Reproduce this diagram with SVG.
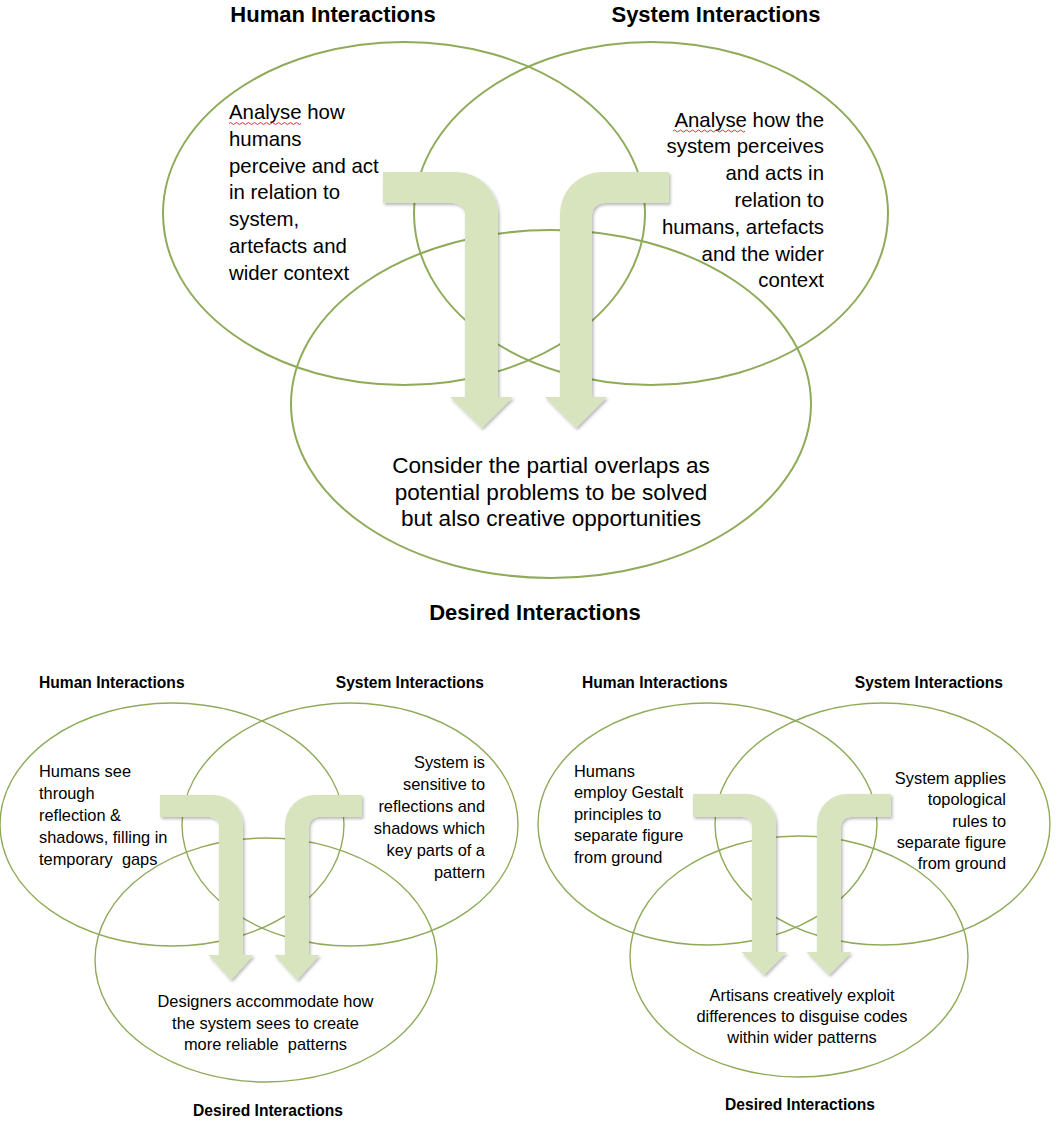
<svg xmlns="http://www.w3.org/2000/svg" width="1058" height="1122" viewBox="0 0 1058 1122">
  <defs>
    <filter id="shadow" x="-20%" y="-20%" width="140%" height="140%">
      <feDropShadow dx="1.5" dy="2" stdDeviation="1.5" flood-color="#000" flood-opacity="0.28"/>
    </filter>
  </defs>
  <style>
    .ring { fill: none; stroke: #8fab5a; }
    .big { stroke-width: 2; }
    .small { stroke-width: 1.4; }
    .arrow { fill: #d7e4bd; filter: url(#shadow); }
    .t { font-family: "Liberation Sans", Arial, sans-serif; fill: #000; }
    .title1 { font-size: 22px; font-weight: bold; }
    .body1 { font-size: 20.4px; }
    .body1b { font-size: 22.6px; }
    .title2 { font-size: 15.6px; font-weight: bold; }
    .body2 { font-size: 16.4px; }
    .mid { text-anchor: middle; }
    .end { text-anchor: end; }
    .squiggle { fill: none; stroke: #e03030; stroke-width: 1; }
  </style>
  <rect width="1058" height="1122" fill="#fff"/>

  <!-- ===== Top diagram ===== -->
  <g id="top-human">
    <ellipse class="ring big" cx="404" cy="213.5" rx="241" ry="171.5"/>
  </g>
  <g id="top-system">
    <ellipse class="ring big" cx="651" cy="213.5" rx="237" ry="171.5"/>
  </g>
  <g id="top-desired">
    <ellipse class="ring big" cx="551" cy="404" rx="260" ry="174"/>
  </g>

  <!-- ===== Bottom-left diagram ===== -->
  <g id="bl-human">
    <ellipse class="ring small" cx="172" cy="824.5" rx="172" ry="121.5"/>
  </g>
  <g id="bl-system">
    <ellipse class="ring small" cx="350" cy="824.5" rx="168" ry="121.5"/>
  </g>
  <g id="bl-desired">
    <ellipse class="ring small" cx="266" cy="960" rx="171" ry="122"/>
  </g>

  <!-- ===== Bottom-right diagram ===== -->
  <g id="br-human">
    <ellipse class="ring small" cx="707.5" cy="824" rx="169.5" ry="121"/>
  </g>
  <g id="br-system">
    <ellipse class="ring small" cx="882.5" cy="824" rx="167.5" ry="121"/>
  </g>
  <g id="br-desired">
    <ellipse class="ring small" cx="799" cy="956.5" rx="169" ry="120.5"/>
  </g>

  <!-- ===== Connectors (bent arrows) ===== -->
  <g id="connectors">
    <!-- top -->
    <path class="arrow" d="M383,172 H456 A42,42 0 0 1 498,214 V397 H513 L481.5,428 L450,397 H465 V215 A12,12 0 0 0 453,203 H383 Z"/>
    <path class="arrow" d="M669,172 H602 A42,42 0 0 0 560,214 V397 H545 L576,428 L607,397 H592 V215 A12,12 0 0 1 604,203 H669 Z"/>
    <!-- bottom-left -->
    <path class="arrow" d="M160,795 H213 A30,30 0 0 1 243,825 V955 H253.5 L231,980 L208.5,955 H219 V826 A9,9 0 0 0 210,817 H160 Z"/>
    <path class="arrow" d="M362,795 H315 A30,30 0 0 0 285,825 V955 H274.5 L297,980 L319.5,955 H309 V826 A9,9 0 0 1 318,817 H362 Z"/>
    <!-- bottom-right -->
    <path class="arrow" d="M693,794 H746 A30,30 0 0 1 776,824 V952 H786.5 L764,975 L741.5,952 H752 V826 A9,9 0 0 0 743,817 H693 Z"/>
    <path class="arrow" d="M891,794 H847 A30,30 0 0 0 817,824 V952 H806.5 L829,975 L851.5,952 H841 V826 A9,9 0 0 1 850,817 H891 Z"/>
  </g>

  <!-- ===== Labels: top diagram ===== -->
  <g id="top-labels">
    <text class="t title1 mid" x="333" y="22">Human Interactions</text>
    <text class="t title1 mid" x="716" y="22">System Interactions</text>

    <text class="t body1" x="229" y="119">Analyse how</text>
    <text class="t body1" x="229" y="145.8">humans</text>
    <text class="t body1" x="229" y="172.6">perceive and act</text>
    <text class="t body1" x="229" y="199.4">in relation to</text>
    <text class="t body1" x="229" y="226.2">system,</text>
    <text class="t body1" x="229" y="253">artefacts and</text>
    <text class="t body1" x="229" y="279.8">wider context</text>
    <path class="squiggle" d="M229,123.5 q1.5,-2 3,0 t3,0 t3,0 t3,0 t3,0 t3,0 t3,0 t3,0 t3,0 t3,0 t3,0 t3,0 t3,0 t3,0 t3,0 t3,0 t3,0 t3,0 t3,0 t3,0 t3,0 t3,0 t3,0 t3,0"/>

    <text class="t body1 end" x="824" y="126.5">Analyse how the</text>
    <text class="t body1 end" x="824" y="153.3">system perceives</text>
    <text class="t body1 end" x="824" y="180.1">and acts in</text>
    <text class="t body1 end" x="824" y="206.9">relation to</text>
    <text class="t body1 end" x="824" y="233.7">humans, artefacts</text>
    <text class="t body1 end" x="824" y="260.5">and the wider</text>
    <text class="t body1 end" x="824" y="287.3">context</text>
    <path class="squiggle" d="M673,131 q1.5,-2 3,0 t3,0 t3,0 t3,0 t3,0 t3,0 t3,0 t3,0 t3,0 t3,0 t3,0 t3,0 t3,0 t3,0 t3,0 t3,0 t3,0 t3,0 t3,0 t3,0 t3,0 t3,0 t3,0 t3,0"/>

    <text class="t body1b mid" x="551" y="473">Consider the partial overlaps as</text>
    <text class="t body1b mid" x="551" y="499.5">potential problems to be solved</text>
    <text class="t body1b mid" x="551" y="526">but also creative opportunities</text>

    <text class="t title1 mid" x="535" y="620">Desired Interactions</text>
  </g>

  <!-- ===== Labels: bottom-left diagram ===== -->
  <g id="bl-labels">
    <text class="t title2" x="39" y="688">Human Interactions</text>
    <text class="t title2 end" x="484" y="688">System Interactions</text>

    <text class="t body2" x="39" y="777">Humans see</text>
    <text class="t body2" x="39" y="799">through</text>
    <text class="t body2" x="39" y="821">reflection &amp;</text>
    <text class="t body2" x="39" y="843">shadows, filling in</text>
    <text class="t body2" x="39" y="865" xml:space="preserve">temporary  gaps</text>

    <text class="t body2 end" x="485" y="768">System is</text>
    <text class="t body2 end" x="485" y="790">sensitive to</text>
    <text class="t body2 end" x="485" y="812">reflections and</text>
    <text class="t body2 end" x="485" y="834">shadows which</text>
    <text class="t body2 end" x="485" y="856">key parts of a</text>
    <text class="t body2 end" x="485" y="878">pattern</text>

    <text class="t body2 mid" x="265.5" y="1007">Designers accommodate how</text>
    <text class="t body2 mid" x="265.5" y="1028.5">the system sees to create</text>
    <text class="t body2 mid" x="265.5" y="1050" xml:space="preserve">more reliable  patterns</text>

    <text class="t title2 mid" x="268" y="1116">Desired Interactions</text>
  </g>

  <!-- ===== Labels: bottom-right diagram ===== -->
  <g id="br-labels">
    <text class="t title2" x="582" y="688">Human Interactions</text>
    <text class="t title2 end" x="1003" y="688">System Interactions</text>

    <text class="t body2" x="574" y="777">Humans</text>
    <text class="t body2" x="574" y="798.4">employ Gestalt</text>
    <text class="t body2" x="574" y="819.8">principles to</text>
    <text class="t body2" x="574" y="841.2">separate figure</text>
    <text class="t body2" x="574" y="862.6">from ground</text>

    <text class="t body2 end" x="1006" y="784">System applies</text>
    <text class="t body2 end" x="1006" y="805.3">topological</text>
    <text class="t body2 end" x="1006" y="826.6">rules to</text>
    <text class="t body2 end" x="1006" y="847.9">separate figure</text>
    <text class="t body2 end" x="1006" y="869.2">from ground</text>

    <text class="t body2 mid" x="802" y="1001">Artisans creatively exploit</text>
    <text class="t body2 mid" x="802" y="1022">differences to disguise codes</text>
    <text class="t body2 mid" x="802" y="1043">within wider patterns</text>

    <text class="t title2 mid" x="800" y="1110">Desired Interactions</text>
  </g>
</svg>
